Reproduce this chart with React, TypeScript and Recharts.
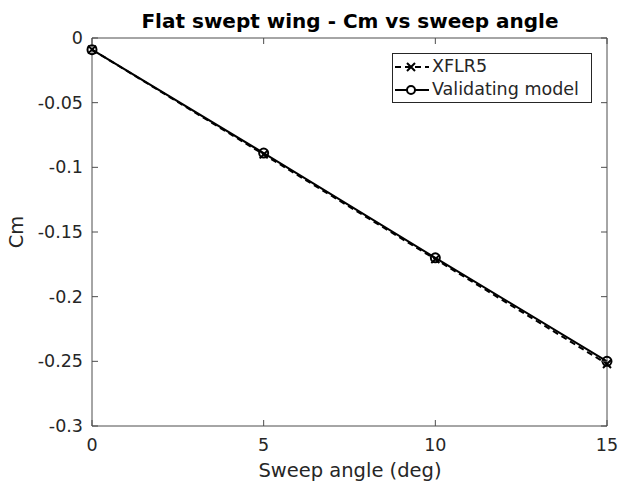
import React from 'react';
import { LineChart, Line, XAxis, YAxis } from 'recharts';

const sweepAngles = [0, 5, 10, 15];
const xflr5Cm = [-0.009, -0.09, -0.171, -0.252];
const modelCm = [-0.009, -0.089, -0.17, -0.25];
const xTicks = [0, 5, 10, 15];
const yTicks = [0, -0.05, -0.1, -0.15, -0.2, -0.25, -0.3];

const data = sweepAngles.map((a, i) => ({ angle: a, xflr5: xflr5Cm[i], model: modelCm[i] }));

const FONT = '"DejaVu Sans", sans-serif';
const AXIS = '#4d4d4d';
const TEXT = '#262626';
const TICK = 6;
const TICK_FS = 17.5;

const fmt = (v: number) => (v === 0 ? '0' : String(v));

// MATLAB-style inward ticks
const BottomTick = (p: any) => {
  const { x, y, payload } = p;
  return (
    <g>
      <line x1={x} x2={x} y1={y} y2={y - TICK} stroke={AXIS} />
      <text x={x} y={y + 25} textAnchor="middle" fontSize={TICK_FS} fontFamily={FONT} fill={TEXT}>
        {fmt(payload.value)}
      </text>
    </g>
  );
};
const TopTick = (p: any) => {
  const { x, y } = p;
  return <line x1={x} x2={x} y1={y} y2={y + TICK} stroke={AXIS} />;
};
const LeftTick = (p: any) => {
  const { x, y, payload } = p;
  return (
    <g>
      <line x1={x} x2={x + TICK} y1={y} y2={y} stroke={AXIS} />
      <text x={x - 9} y={y + 6} textAnchor="end" fontSize={TICK_FS} fontFamily={FONT} fill={TEXT}>
        {fmt(payload.value)}
      </text>
    </g>
  );
};
const RightTick = (p: any) => {
  const { x, y } = p;
  return <line x1={x} x2={x - TICK} y1={y} y2={y} stroke={AXIS} />;
};

const CrossDot = (p: any) => {
  const { cx, cy } = p;
  const s = 4;
  return (
    <path key={`x-${cx}`} d={`M${cx - s},${cy - s}L${cx + s},${cy + s}M${cx - s},${cy + s}L${cx + s},${cy - s}`}
      stroke="#000" strokeWidth={2} fill="none" />
  );
};
const CircleDot = (p: any) => {
  const { cx, cy } = p;
  return <circle key={`o-${cx}`} cx={cx} cy={cy} r={4.5} stroke="#000" strokeWidth={2} fill="none" />;
};

const LegendBox = () => (
  <div style={{ position: 'absolute', left: 392, top: 53, border: '1px solid #262626', background: '#fff',
    width: 200, height: 50, boxSizing: 'border-box', fontFamily: FONT, fontSize: TICK_FS, color: TEXT,
    padding: '1px 0 0 0', lineHeight: 1 }}>
    <div style={{ display: 'flex', alignItems: 'center', height: 23 }}>
      <svg width={38} height={20}>
        <line x1={2} x2={36} y1={10} y2={10} stroke="#000" strokeWidth={2} strokeDasharray="6 4" />
        <path d="M14,6L22,14M14,14L22,6" stroke="#000" strokeWidth={2} />
      </svg>
      <span style={{ marginLeft: 1 }}>XFLR5</span>
    </div>
    <div style={{ display: 'flex', alignItems: 'center', height: 23 }}>
      <svg width={38} height={20}>
        <line x1={2} x2={36} y1={10} y2={10} stroke="#000" strokeWidth={2} />
        <circle cx={18} cy={10} r={4} stroke="#000" strokeWidth={2} fill="#fff" />
      </svg>
      <span style={{ marginLeft: 1 }}>Validating model</span>
    </div>
  </div>
);

export default function App() {
  return (
    <div style={{ position: 'absolute', left: 0, top: 0, width: 620, height: 481, background: '#fff' }}>
      <LineChart width={620} height={481} data={data} margin={{ top: 37, right: 12, bottom: 25, left: 32 }}>
        <text x={350} y={28} textAnchor="middle" fontSize={20} fontWeight="bold" fontFamily={FONT} fill="#000">
          Flat swept wing - Cm vs sweep angle
        </text>
        <text x={350} y={477} textAnchor="middle" fontSize={19.5} fontFamily={FONT} fill={TEXT}>
          Sweep angle (deg)
        </text>
        <text x={16} y={232} textAnchor="middle" dominantBaseline="central" fontSize={19.5} fontFamily={FONT}
          fill={TEXT} transform="rotate(-90 16 232)">
          Cm
        </text>
        <XAxis dataKey="angle" type="number" domain={[0, 15]} ticks={xTicks} height={30}
          stroke={AXIS} tickLine={false} tickSize={0} tickMargin={0} tick={<BottomTick />} interval={0} />
        <XAxis xAxisId="top" dataKey="angle" orientation="top" type="number" domain={[0, 15]} ticks={xTicks}
          height={1} stroke={AXIS} tickLine={false} tickSize={0} tickMargin={0} tick={<TopTick />} interval={0} />
        <YAxis type="number" domain={[-0.3, 0]} ticks={yTicks} width={60}
          stroke={AXIS} tickLine={false} tickSize={0} tickMargin={0} tick={<LeftTick />} interval={0} />
        <YAxis yAxisId="right" orientation="right" type="number" domain={[-0.3, 0]} ticks={yTicks} width={1}
          stroke={AXIS} tickLine={false} tickSize={0} tickMargin={0} tick={<RightTick />} interval={0} />
        {/* hidden series so the box axes get drawn */}
        <Line xAxisId="top" yAxisId="right" dataKey="model" stroke="none" dot={false} activeDot={false}
          isAnimationActive={false} />
        <Line dataKey="xflr5" name="XFLR5" stroke="#000" strokeWidth={2} strokeDasharray="6 4"
          dot={<CrossDot />} isAnimationActive={false} />
        <Line dataKey="model" name="Validating model" stroke="#000" strokeWidth={2}
          dot={<CircleDot />} isAnimationActive={false} />
      </LineChart>
      <LegendBox />
    </div>
  );
}
